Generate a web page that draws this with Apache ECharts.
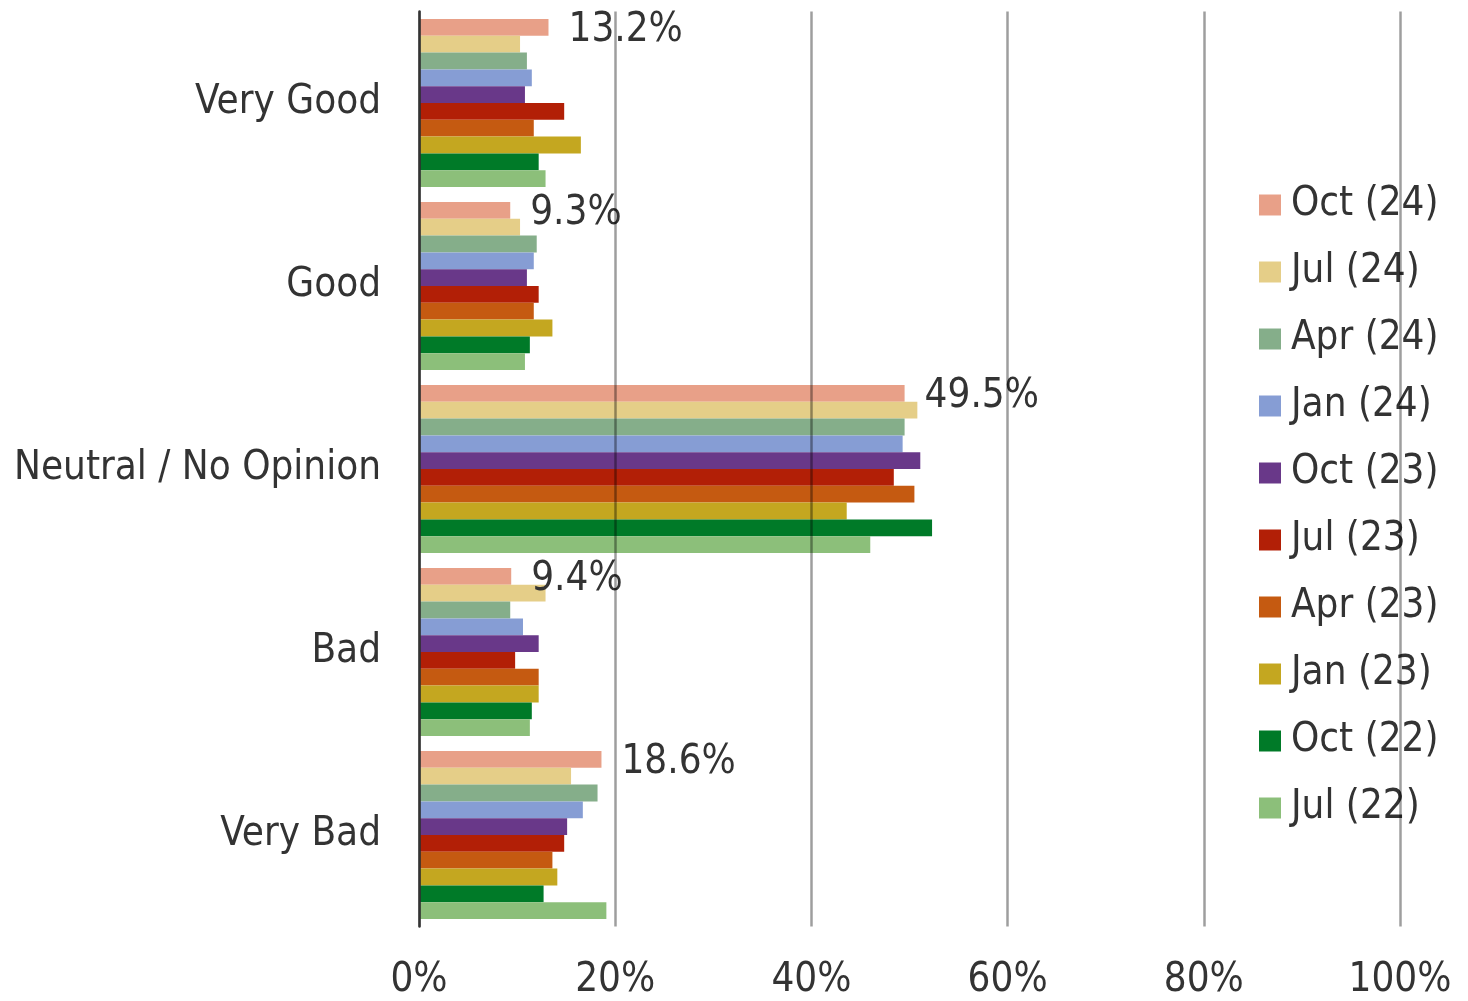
<!DOCTYPE html>
<html>
<head>
<meta charset="utf-8">
<script src="https://cdn.jsdelivr.net/npm/echarts@6/dist/echarts.min.js"></script>
<style>
html,body{margin:0;padding:0;background:#fff;}
#chart{width:1468px;height:1001px;}
</style>
</head>
<body>
<div id="chart"></div>
<script>
const categories = ['Very Good', 'Good', 'Neutral / No Opinion', 'Bad', 'Very Bad'];
const seriesNames = ['Oct (24)', 'Jul (24)', 'Apr (24)', 'Jan (24)', 'Oct (23)', 'Jul (23)', 'Apr (23)', 'Jan (23)', 'Oct (22)', 'Jul (22)'];
const seriesColors = ['#E8A088', '#E5CE88', '#85AE8A', '#869DD4', '#693889', '#B21F06', '#C55A11', '#C4A720', '#007A28', '#8CBF7A'];
const oct24 = [13.2, 9.3, 49.5, 9.4, 18.6];
const jul24 = [10.3, 10.3, 50.8, 12.9, 15.5];
const apr24 = [11.0, 12.0, 49.5, 9.3, 18.2];
const jan24 = [11.5, 11.7, 49.3, 10.6, 16.7];
const oct23 = [10.8, 11.0, 51.1, 12.2, 15.1];
const jul23 = [14.8, 12.2, 48.4, 9.8, 14.8];
const apr23 = [11.7, 11.7, 50.5, 12.2, 13.6];
const jan23 = [16.5, 13.6, 43.6, 12.2, 14.1];
const oct22 = [12.2, 11.3, 52.3, 11.5, 12.7];
const jul22 = [12.9, 10.8, 46.0, 11.3, 19.1];
const seriesData = [oct24, jul24, apr24, jan24, oct23, jul23, apr23, jan23, oct22, jul22];
const xTicks = { min: 0, max: 100, interval: 20 };

const FONT = '"DejaVu Sans Condensed", "DejaVu Sans", sans-serif';
const TXT = '#333333';
const FS = 40;

const chart = echarts.init(document.getElementById('chart'), null, { renderer: 'canvas' });
const series = seriesNames.map((name, i) => ({
  name: name,
  type: 'bar',
  data: seriesData[i],
  itemStyle: { color: seriesColors[i] },
  barGap: '0%',
  barCategoryGap: '8.2%',
  z: 1,
  label: i === 0 ? {
    show: true,
    position: 'right',
    distance: 20,
    offset: [0, 3],
    formatter: p => p.value.toFixed(1) + '%',
    fontFamily: FONT,
    fontSize: FS,
    color: TXT
  } : { show: false }
}));

chart.setOption({
  animation: false,
  backgroundColor: '#fff',
  grid: { left: 419, top: 11.5, width: 981, height: 915, containLabel: false },
  legend: {
    data: seriesNames,
    orient: 'vertical',
    left: 1259,
    top: 185,
    padding: 0,
    itemWidth: 22,
    itemHeight: 21,
    itemGap: 27,
    icon: 'rect',
    z: 0,
    textStyle: { fontFamily: FONT, fontSize: FS, color: TXT, lineHeight: 40, padding: [0, 0, 0, 5] }
  },
  xAxis: {
    type: 'value',
    min: xTicks.min,
    max: xTicks.max,
    interval: xTicks.interval,
    z: 5,
    axisLine: { show: false },
    axisTick: { show: false },
    splitLine: { show: true, lineStyle: { color: 'rgba(0,0,0,0.38)', width: 2.5 } },
    axisLabel: { fontFamily: FONT, fontSize: FS, color: TXT, margin: 34, formatter: '{value}%' }
  },
  yAxis: {
    type: 'category',
    data: categories,
    inverse: true,
    z: 6,
    axisLine: { show: true, lineStyle: { color: '#333', width: 2.5 } },
    axisTick: { show: false },
    axisLabel: { fontFamily: FONT, fontSize: FS, color: TXT, margin: 38 }
  },
  series: series
});
</script>
</body>
</html>
